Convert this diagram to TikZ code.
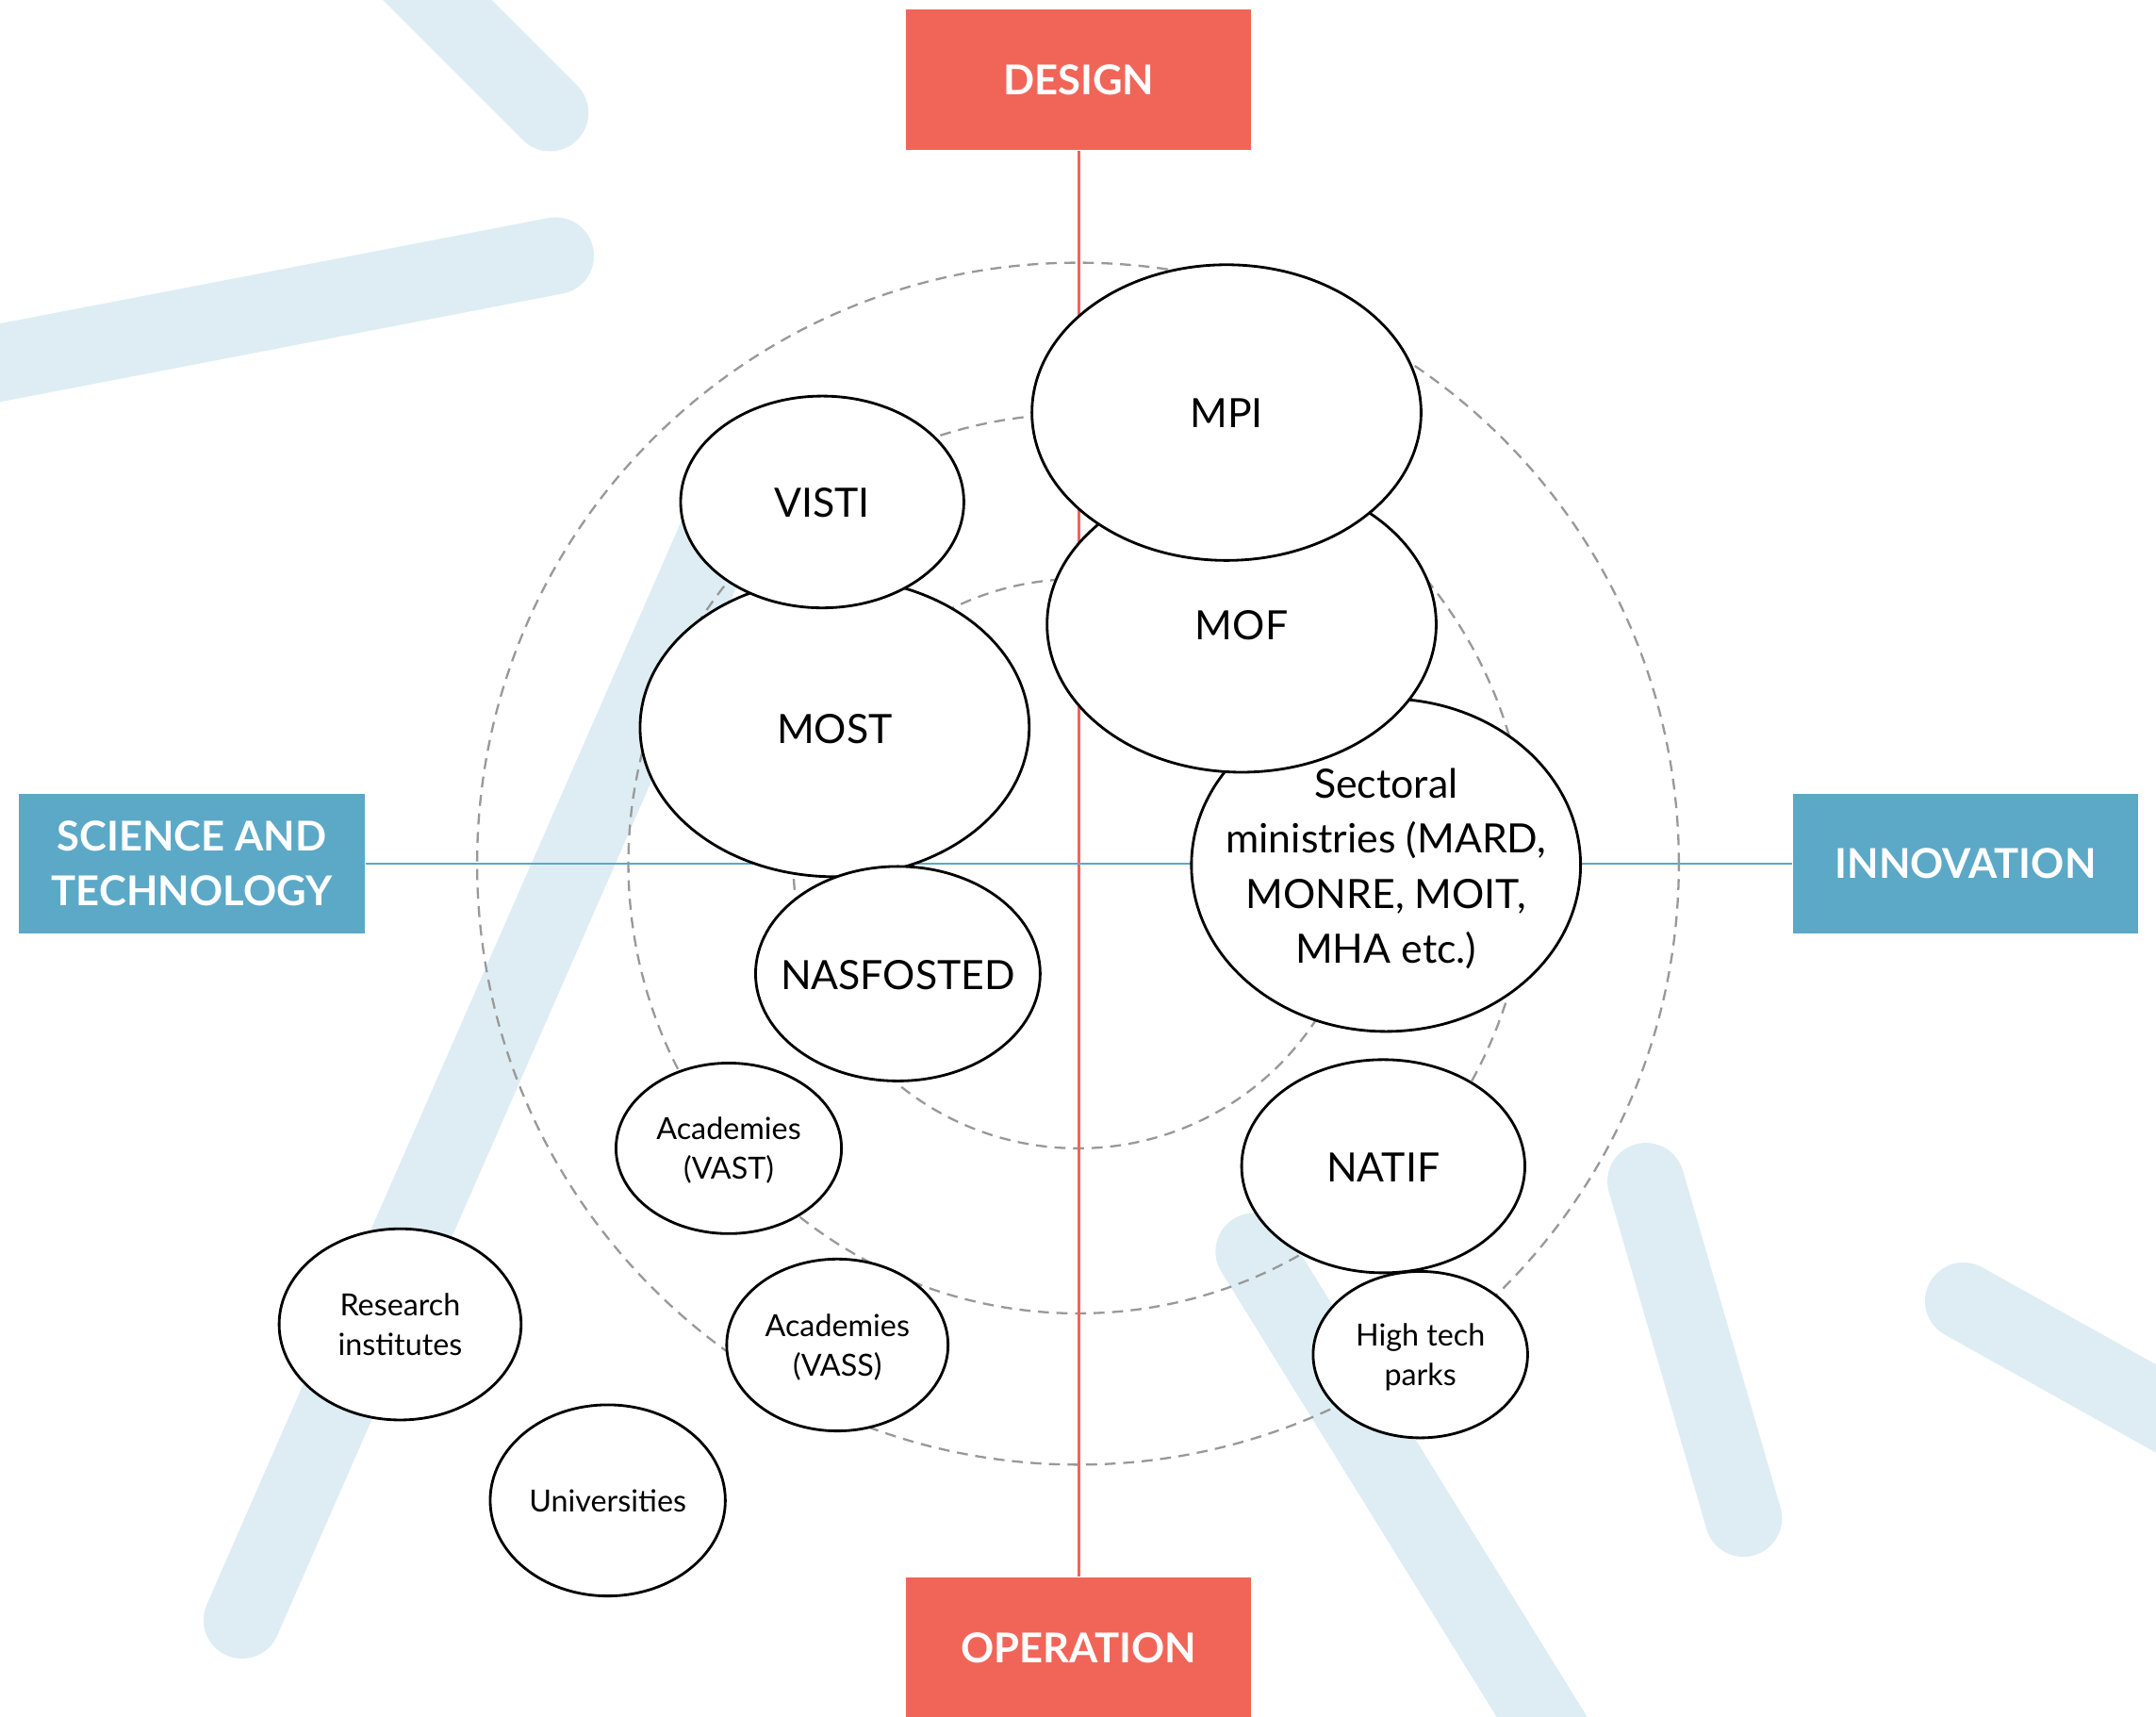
\documentclass[tikz,border=0pt]{standalone}
\usepackage{fontspec}
\setmainfont{Lato}
\usepackage{tikz}
\usetikzlibrary{shapes.geometric}
\definecolor{myred}{RGB}{241,101,89}
\definecolor{myblue}{RGB}{92,168,199}
\definecolor{mystripe}{RGB}{222,237,244}
\definecolor{mygray}{RGB}{153,153,153}
\newcommand{\mtext}[1]{\makebox[0pt]{\raisebox{-0.35em}[0pt][0pt]{\begin{tabular}{@{}c@{}}#1\end{tabular}}}}
\tikzset{smalltxt/.style={font=\fontsize{6.3}{8.2}\selectfont}}

\begin{document}
\begin{tikzpicture}[x=0.1mm,y=-0.1mm]
	\clip (0,0) rectangle (1568,1248);

	% stripes in the background
	\begin{scope}[every path/.style={draw=mystripe,line width=5.6mm,line cap=round}]
	    \path (400,82) -- (250,-68);
	    \path (404,186) -- (-100,283);
	    \path (530,370) -- (176,1178);
	    \path (912,910) -- (1183,1348);
	    \path (1197,859) -- (1268,1104);
	    \path (1428,946) -- (1700,1098);
	\end{scope}

	% rings
	\coordinate (c) at (784,628);
	\begin{scope}[every path/.style={draw=mygray,line width=0.45pt,dash pattern=on 0.8mm off 0.55mm}]
	    \path (c) circle[radius=20.7mm];
	    \path (c) circle[radius=32.7mm];
	    \path (c) circle[radius=43.7mm];
	\end{scope}

	\begin{scope}[every node/.style={rectangle,text=white,align=center,inner sep=0pt,
	              minimum width=25.1mm,minimum height=10.2mm,
	              font=\fontsize{8.5}{11.4}\selectfont\bfseries}]
	    \node (design) [fill=myred] at (784.5,58) {DESIGN};
	    \node (operation) [fill=myred] at (784.5,1198) {OPERATION};
	    \node (st) [fill=myblue] at (139.5,628) {SCIENCE AND\\TECHNOLOGY};
	    \node (innov) [fill=myblue] at (1429.5,628) {INNOVATION};
	\end{scope}

	\begin{scope}[every edge/.style={draw,line width=0.5pt}]
	    \path (design) edge[draw=myred] (operation);
	    \path (st) edge[draw=myblue] (innov);
	\end{scope}

	\begin{scope}[every node/.style={ellipse,draw,fill=white,line width=0.55pt,inner sep=0pt,
	              font=\fontsize{8.35}{11.4}\selectfont}]
	    \node (sect) [minimum width=28.3mm,minimum height=24.2mm] at (1008,629)
	        {\mtext{Sectoral\\ministries (MARD,\\MONRE, MOIT,\\MHA etc.)}};
	    \node (mof) [minimum width=28.3mm,minimum height=21.5mm] at (903,454) {\mtext{MOF}};
	    \node (mpi) [minimum width=28.3mm,minimum height=21.5mm] at (892,300) {\mtext{MPI}};
	    \node (most) [minimum width=28.3mm,minimum height=21.7mm] at (607,529) {\mtext{MOST}};
	    \node (visti) [minimum width=20.6mm,minimum height=15.4mm] at (598,365) {\mtext{VISTI}};
	    \node (nas) [minimum width=20.7mm,minimum height=15.6mm] at (653,708) {\mtext{NASFOSTED}};
	    \node (vast) [smalltxt,minimum width=16.4mm,minimum height=12.4mm] at (530,835) {\mtext{Academies\\(VAST)}};
	    \node (vass) [smalltxt,minimum width=16.1mm,minimum height=12.5mm] at (609,978) {\mtext{Academies\\(VASS)}};
	    \node (res) [smalltxt,minimum width=17.6mm,minimum height=13.9mm] at (291,963) {\mtext{Research\\institutes}};
	    \node (uni) [smalltxt,minimum width=17.1mm,minimum height=13.9mm] at (442,1091) {\mtext{Universities}};
	    \node (natif) [minimum width=20.6mm,minimum height=15.5mm] at (1006,848) {\mtext{NATIF}};
	    \node (htp) [smalltxt,minimum width=15.6mm,minimum height=12.1mm] at (1033,985) {\mtext{High tech\\parks}};
	\end{scope}
\end{tikzpicture}
\end{document}
